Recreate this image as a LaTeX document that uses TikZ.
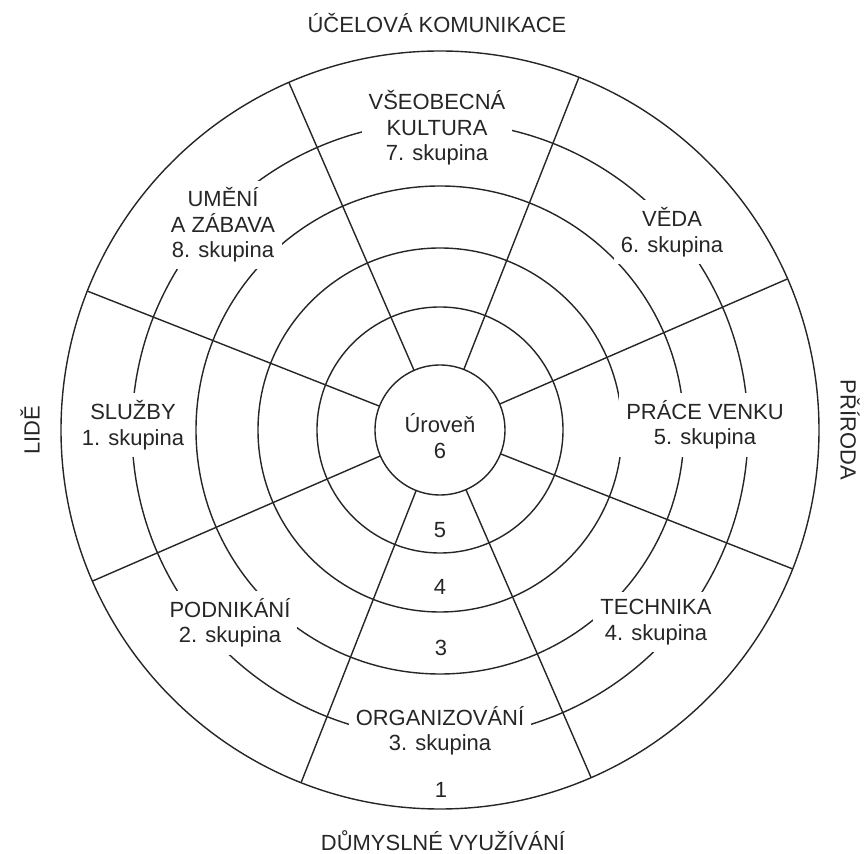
\documentclass[tikz,border=0pt]{standalone}
\usepackage{fontspec}
\setmainfont{Liberation Sans}
\begin{document}
\begin{tikzpicture}[x=0.02cm, y=0.02cm, line width=0.8pt,
  txt/.style={font=\fontsize{12.5}{14.5}\selectfont, text=black!85},
  lbl/.style={txt, fill=white, inner sep=4pt, align=center}]
\useasboundingbox (-440,-424) rectangle (428,430);

% level circles, centre outwards
\foreach \r in {65,123,182,244,308,379}
  \draw[black!85] (0,0) circle (\r);

% eight spokes from the centre circle to the rim
\foreach \a in {0,...,7}
  \draw[black!85] (\a*45+23.5:65) -- (\a*45+23.5:379);

% the four sides
\node[txt] (top) at (-3,407) {ÚČELOVÁ KOMUNIKACE};
\node[txt] (bottom) at (3,-411) {DŮMYSLNÉ VYUŽÍVÁNÍ};
\node[txt, rotate=90] (left) at (-410,0) {LIDĚ};
\node[txt, rotate=-90] (right) at (410,0) {PŘÍRODA};

% groups (white fill cuts the arcs)
\node[lbl] (g7) at (-3,302) {VŠEOBECNÁ\\KULTURA\\7. skupina};
\node[lbl] (g8) at (-217,205) {UMĚNÍ\\A ZÁBAVA\\8. skupina};
\node[lbl] (g6) at (232,198) {VĚDA\\6. skupina};
\node[lbl] (g1) at (-307,5) {SLUŽBY\\1. skupina};
\node[lbl] (g5) at (265,5) {PRÁCE VENKU\\5. skupina};
\node[lbl] (g2) at (-210,-193) {PODNIKÁNÍ\\2. skupina};
\node[lbl] (g4) at (216,-192) {TECHNIKA\\4. skupina};
\node[lbl] (g3) at (0,-301) {ORGANIZOVÁNÍ\\3. skupina};

% levels
\node[lbl] (l6) at (0,-6) {Úroveň\\6};
\node[txt] (l5) at (0,-100) {5};
\node[txt] (l4) at (0,-157) {4};
\node[txt] (l3) at (1,-218) {3};
\node[txt] (l1) at (1,-360) {1};
\end{tikzpicture}
\end{document}
